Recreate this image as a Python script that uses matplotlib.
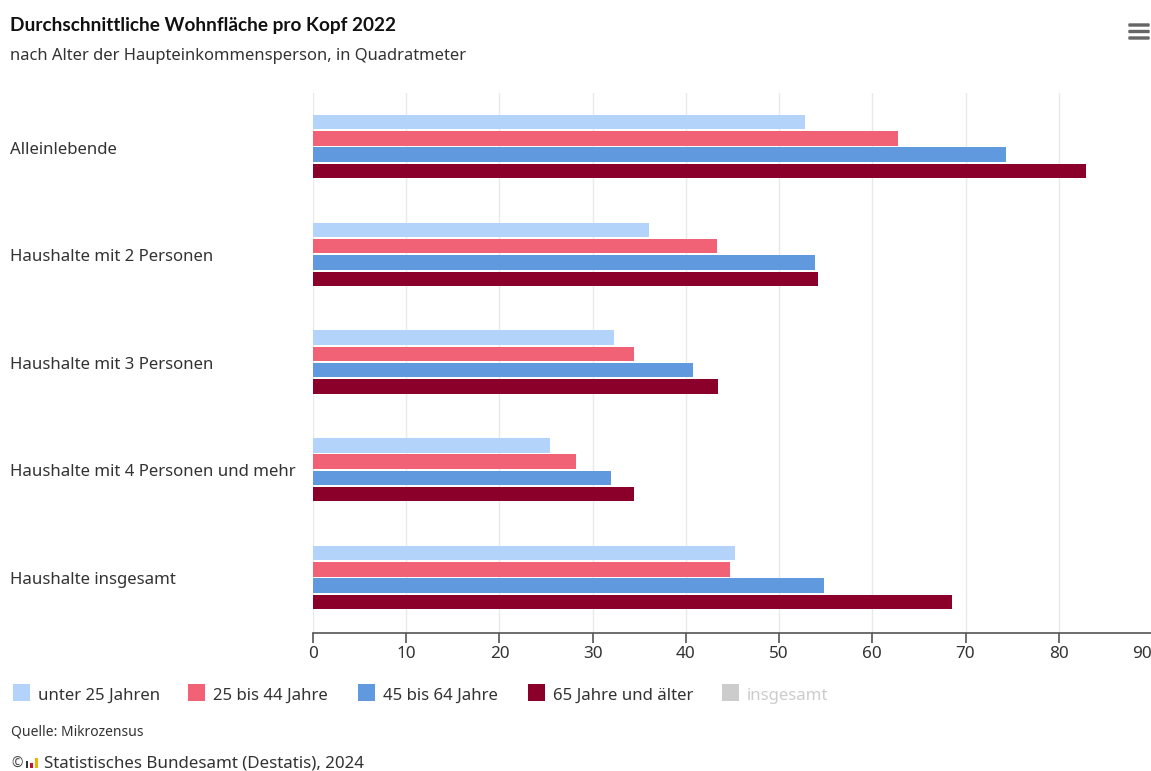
import matplotlib
matplotlib.use("Agg")
import matplotlib.pyplot as plt
from matplotlib.patches import Rectangle, FancyBboxPatch
import numpy as np

W, H = 1151, 771

categories = ["Alleinlebende", "Haushalte mit 2 Personen", "Haushalte mit 3 Personen",
              "Haushalte mit 4 Personen und mehr", "Haushalte insgesamt"]
series_names = ["unter 25 Jahren", "25 bis 44 Jahre", "45 bis 64 Jahre", "65 Jahre und älter"]
unter_25 = [52.8, 36.0, 32.3, 25.4, 45.3]
von_25_44 = [62.7, 43.3, 34.4, 28.2, 44.7]
von_45_64 = [74.3, 53.8, 40.8, 32.0, 54.8]
ab_65 = [82.9, 54.2, 43.4, 34.4, 68.5]
series_values = [unter_25, von_25_44, von_45_64, ab_65]
colors = ["#b3d3fb", "#f26277", "#6199de", "#8a002a"]
x_ticks = [0, 10, 20, 30, 40, 50, 60, 70, 80, 90]

plt.rcParams["font.family"] = ["Noto Sans", "DejaVu Sans"]
TEXT = "#333333"

fig = plt.figure(figsize=(W / 100, H / 100), dpi=100)

# helpers working in pixel coordinates from the top left corner
def px_text(x, y, s, **kw):
    fig.text(x / W, 1 - y / H, s, va="center", **kw)

def px_rect(x, y, w, h, color):
    fig.add_artist(Rectangle((x / W, 1 - (y + h) / H), w / W, h / H, color=color,
                             transform=fig.transFigure, lw=0))

left, right, top, bottom = 313, 1152, 93, 632.5
ax = fig.add_axes([left / W, 1 - bottom / H, (right - left) / W, (bottom - top) / H])
ax.set_xlim(0, 90)
ax.set_ylim(4.51, -0.4965)

# four bars per group, top to bottom
bar_h = 14.4 / 107.75
step = 16.3 / 107.75
y_pos = np.arange(len(categories))
for i, vals in enumerate(series_values):
    ax.barh(y_pos + (i - 1.5) * step, vals, height=bar_h, color=colors[i], zorder=3)

ax.set_xticks(x_ticks)
ax.set_yticks(y_pos)
ax.set_yticklabels([])
ax.tick_params(axis="y", length=0)
ax.tick_params(axis="x", length=7, width=1.2, color="#555555", labelcolor=TEXT,
               labelsize=12.3, pad=3)
ax.grid(axis="x", color="#e9e9e9", lw=1, zorder=0)
for side in ["top", "right", "left"]:
    ax.spines[side].set_visible(False)
ax.spines["bottom"].set_color("#555555")
ax.spines["bottom"].set_linewidth(1.2)

# the last tick sits on the figure edge, so its label is right aligned
ax.get_xticklabels()[-1].set_ha("right")

for name, yy in zip(categories, [150, 257, 365, 471.5, 580.5]):
    px_text(10, yy, name, fontsize=12.1, color=TEXT)

px_text(10, 25, "Durchschnittliche Wohnfläche pro Kopf 2022", fontsize=13.7,
        color="#111111", fontweight="bold", family="Lato")
px_text(10, 55.5, "nach Alter der Haupteinkommensperson, in Quadratmeter", fontsize=11.93,
        color=TEXT)

# legend row
legend_x = [13, 188, 358, 528]
for x0, name, col in zip(legend_x, series_names, colors):
    px_rect(x0, 684, 17, 17, col)
    px_text(x0 + 25, 696, name, fontsize=12.1, color=TEXT)
px_rect(722, 684, 17, 17, "#cccccc")
px_text(747, 696, "insgesamt", fontsize=12.1, color="#cccccc")

px_text(11, 732, "Quelle: Mikrozensus", fontsize=10, color=TEXT)

# copyright line with the small bar logo
px_text(11, 764, "©", fontsize=10, color="#444444")
px_rect(26, 761, 2, 7, "#333333")
px_rect(30, 763, 3, 5, "#c8102e")
px_rect(35, 758, 3, 10, "#f0b400")
px_text(44, 764, "Statistisches Bundesamt (Destatis), 2024", fontsize=12.2, color=TEXT)

# menu icon
for yy in (25, 31.5, 38):
    fig.add_artist(FancyBboxPatch((1129 / W, 1 - (yy + 1) / H), 20 / W, 2 / H,
                                  boxstyle="round,pad=0", color="#666666",
                                  transform=fig.transFigure, lw=1))

fig.savefig("out.png", dpi=100)
